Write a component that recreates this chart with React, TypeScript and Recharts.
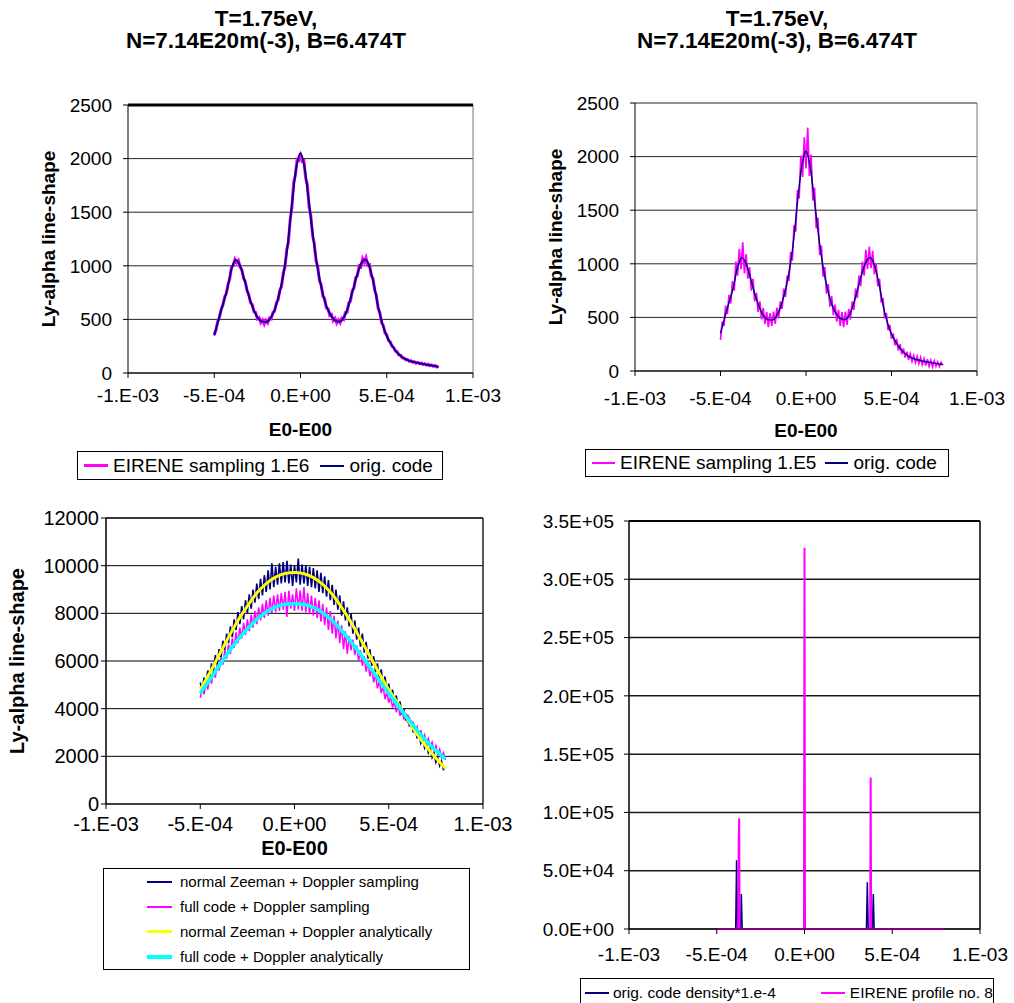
import React from 'react';
import { LineChart, Line, XAxis, YAxis, CartesianGrid, ReferenceLine } from 'recharts';

const FONT = "'Liberation Sans', Arial, Helvetica, sans-serif";
const MAGENTA = '#FF00FF';
const NAVY = '#000080';
const YELLOW = '#FFFF00';
const CYAN = '#00FFFF';

const titleLines = ['T=1.75eV,', 'N=7.14E20m(-3), B=6.474T'];
const xAxisTitle = 'E0-E00';
const yAxisTitle = 'Ly-alpha line-shape';

// x values in units of 1e-4
const xTicks = [-10, -5, 0, 5, 10];
const xTickLabels = ['-1.E-03', '-5.E-04', '0.E+00', '5.E-04', '1.E-03'];

const p12YTicks = [0, 500, 1000, 1500, 2000, 2500];
const p3YTicks = [0, 2000, 4000, 6000, 8000, 10000, 12000];
const p4YTicks = [0, 50000, 100000, 150000, 200000, 250000, 300000, 350000];
const p4YTickLabels = ['0.0E+00', '5.0E+04', '1.0E+05', '1.5E+05', '2.0E+05', '2.5E+05', '3.0E+05', '3.5E+05'];

// fine energy grid (1e-4 units), step 0.1
const xFine = [
  -5, -4.9, -4.8, -4.7, -4.6, -4.5, -4.4, -4.3, -4.2, -4.1,
  -4, -3.9, -3.8, -3.7, -3.6, -3.5, -3.4, -3.3, -3.2, -3.1,
  -3, -2.9, -2.8, -2.7, -2.6, -2.5, -2.4, -2.3, -2.2, -2.1,
  -2, -1.9, -1.8, -1.7, -1.6, -1.5, -1.4, -1.3, -1.2, -1.1,
  -1, -0.9, -0.8, -0.7, -0.6, -0.5, -0.4, -0.3, -0.2, -0.1,
  0, 0.1, 0.2, 0.3, 0.4, 0.5, 0.6, 0.7, 0.8, 0.9,
  1, 1.1, 1.2, 1.3, 1.4, 1.5, 1.6, 1.7, 1.8, 1.9,
  2, 2.1, 2.2, 2.3, 2.4, 2.5, 2.6, 2.7, 2.8, 2.9,
  3, 3.1, 3.2, 3.3, 3.4, 3.5, 3.6, 3.7, 3.8, 3.9,
  4, 4.1, 4.2, 4.3, 4.4, 4.5, 4.6, 4.7, 4.8, 4.9,
  5, 5.1, 5.2, 5.3, 5.4, 5.5, 5.6, 5.7, 5.8, 5.9,
  6, 6.1, 6.2, 6.3, 6.4, 6.5, 6.6, 6.7, 6.8, 6.9,
  7, 7.1, 7.2, 7.3, 7.4, 7.5, 7.6, 7.7, 7.8, 7.9,
  8,
];

// coarse grid, step 0.25
const xOrig = [
  -5, -4.75, -4.5, -4.25, -4, -3.75, -3.5, -3.25, -3, -2.75,
  -2.5, -2.25, -2, -1.75, -1.5, -1.25, -1, -0.75, -0.5, -0.25,
  0, 0.25, 0.5, 0.75, 1, 1.25, 1.5, 1.75, 2, 2.25,
  2.5, 2.75, 3, 3.25, 3.5, 3.75, 4, 4.25, 4.5, 4.75,
  5, 5.25, 5.5, 5.75, 6, 6.25, 6.5, 6.75, 7, 7.25,
  7.5, 7.75, 8,
];
const origCode = [
  350, 500, 640, 780, 970, 1055, 1000, 870, 720, 605,
  520, 482, 475, 508, 590, 725, 910, 1185, 1570, 1910,
  2050, 1900, 1580, 1245, 970, 768, 625, 540, 490, 479,
  515, 610, 750, 900, 1015, 1058, 990, 830, 620, 457,
  345, 270, 212, 167, 136, 118, 105, 95, 88, 80,
  73, 66, 59,
];

const eirene1E6 = [
  360, 400, 480, 515, 595, 630, 710, 740, 830, 875,
  990, 1000, 1060, 1030, 1050, 985, 965, 880, 855, 765,
  735, 655, 640, 570, 565, 505, 515, 470, 495, 455,
  490, 468, 512, 505, 565, 575, 655, 680, 775, 805,
  935, 985, 1150, 1220, 1430, 1540, 1780, 1840, 1990, 1980,
  2030, 1975, 1980, 1815, 1755, 1545, 1470, 1280, 1210, 1045,
  995, 860, 825, 715, 695, 605, 600, 535, 545, 488,
  510, 465, 495, 468, 512, 500, 565, 568, 655, 672,
  770, 790, 890, 905, 1000, 990, 1065, 1030, 1075, 1005,
  1010, 905, 885, 770, 725, 600, 565, 470, 445, 372,
  358, 302, 292, 249, 240, 205, 198, 169, 166, 142,
  141, 123, 126, 110, 115, 100, 106, 92, 99, 86,
  93, 80, 87, 74, 81, 68, 75, 62, 69, 56,
  62,
];

const eirene1E5 = [
  290, 460, 420, 610, 530, 710, 630, 840, 750, 1020,
  890, 1140, 950, 1200, 910, 1090, 860, 970, 750, 860,
  650, 730, 550, 650, 480, 590, 440, 550, 410, 540,
  420, 555, 440, 590, 490, 650, 580, 770, 690, 890,
  840, 1110, 1030, 1360, 1300, 1690, 1610, 2010, 1810, 2180,
  1890, 2270, 1820, 2020, 1590, 1710, 1330, 1430, 1080, 1170,
  880, 970, 720, 810, 600, 700, 520, 620, 460, 570,
  420, 550, 410, 555, 430, 580, 480, 650, 570, 770,
  680, 890, 790, 1020, 890, 1130, 950, 1160, 960, 1120,
  900, 1000, 790, 860, 640, 680, 490, 540, 380, 430,
  300, 350, 240, 300, 190, 250, 155, 210, 125, 180,
  105, 160, 90, 145, 80, 135, 70, 125, 60, 115,
  50, 110, 45, 100, 40, 95, 45, 85, 40, 80,
  55,
];

const normalZeemanSampling = [
  5100, 4750, 5300, 5050, 5600, 5300, 5900, 5600, 6250, 5850,
  6500, 6150, 6850, 6450, 7150, 6750, 7450, 7000, 7750, 7300,
  8050, 7550, 8300, 7750, 8550, 8000, 8800, 8200, 9000, 8450,
  9250, 8600, 9450, 8750, 9600, 8900, 9800, 9000, 10100, 9100,
  9950, 9200, 10100, 9250, 10150, 9300, 10200, 9250, 10050, 9150,
  10000, 9300, 10300, 9200, 10050, 9250, 10000, 9150, 9950, 9100,
  9900, 9050, 9800, 8900, 9700, 8850, 9550, 8700, 9400, 8550,
  9200, 8350, 9000, 8150, 8750, 7900, 8500, 7700, 8250, 7450,
  8000, 7150, 7700, 6900, 7400, 6600, 7150, 6350, 6800, 6100,
  6500, 5800, 6200, 5550, 5900, 5250, 5650, 5000, 5350, 4750,
  5050, 4500, 4800, 4250, 4550, 4000, 4300, 3750, 4000, 3500,
  3750, 3250, 3500, 3000, 3250, 2750, 3000, 2550, 2750, 2350,
  2550, 2150, 2350, 1950, 2150, 1750, 1950, 1600, 1800, 1450,
  1550,
];

const fullCodeSampling = [
  4450, 4850, 4600, 5050, 4800, 5350, 5050, 5600, 5300, 5850,
  5600, 6150, 5850, 6450, 6100, 6700, 6300, 6950, 6550, 7200,
  6750, 7400, 6950, 7600, 7100, 7750, 7250, 7950, 7400, 8100,
  7550, 8250, 7700, 8400, 7800, 8550, 7900, 8650, 8000, 8750,
  8050, 8800, 8100, 8850, 8150, 8900, 7850, 8950, 8200, 8800,
  8100, 9050, 8150, 8950, 8100, 9100, 8050, 8850, 7950, 8750,
  7900, 8650, 7800, 8550, 7650, 8400, 7500, 8250, 7300, 8100,
  7150, 7900, 6950, 7700, 6750, 7500, 6500, 7250, 6300, 7050,
  6450, 6900, 6250, 6650, 6000, 6450, 5800, 6200, 5550, 5950,
  5350, 5700, 5100, 5450, 4850, 5200, 4650, 4950, 4400, 4700,
  4250, 4500, 4050, 4300, 3850, 4150, 3700, 4000, 3550, 3800,
  3400, 3650, 3200, 3450, 3050, 3250, 2850, 3100, 2700, 2900,
  2550, 2750, 2400, 2600, 2250, 2450, 2100, 2300, 1950, 2150,
  1850,
];

// step 0.5
const xHalf = [-5, -4.5, -4, -3.5, -3, -2.5, -2, -1.5, -1, -0.5, 0, 0.5, 1, 1.5, 2, 2.5, 3, 3.5, 4, 4.5, 5, 5.5, 6, 6.5, 7, 7.5, 8];
const normalZeemanAnalytic = [4800, 5500, 6250, 7000, 7700, 8300, 8850, 9250, 9520, 9670, 9710, 9660, 9500, 9220, 8800, 8250, 7620, 6920, 6200, 5480, 4800, 4200, 3550, 2930, 2400, 1930, 1500];
const fullCodeAnalytic = [4650, 5210, 5800, 6380, 6900, 7350, 7750, 8050, 8270, 8380, 8400, 8370, 8250, 8020, 7700, 7280, 6800, 6280, 5740, 5180, 4640, 4110, 3590, 3100, 2640, 2250, 1900];

const origDensityX = [-5, -3.92, -3.87, -3.82, -3.65, -3.6, -3.55, -0.05, 0, 0.05, 3.53, 3.58, 3.63, 3.87, 3.92, 3.97, 8];
const origDensityY = [0, 0, 59000, 0, 0, 30000, 0, 0, 3000, 0, 0, 40000, 0, 0, 30000, 0, 0];
const eireneProfileX = [-5, -3.78, -3.75, -3.72, -3.7, -0.03, 0, 0.03, 3.74, 3.77, 3.8, 8];
const eireneProfileY = [0, 0, 75000, 95000, 0, 0, 327000, 0, 0, 130000, 0, 0];

const names1 = ['EIRENE sampling 1.E6', 'orig. code'];
const names2 = ['EIRENE sampling 1.E5', 'orig. code'];
const names3 = [
  'normal Zeeman + Doppler sampling',
  'full code + Doppler sampling',
  'normal Zeeman + Doppler analytically',
  'full code + Doppler analytically',
];
const names4 = ['orig. code density*1.e-4', 'EIRENE profile no. 8'];

const pts = (xs: number[], ys: number[]) => xs.map((x, i) => ({ x, y: ys[i] }));

const tickStyle = (size: number) => ({ fill: '#000', fontSize: size, fontFamily: FONT });
const boldLabel = (size: number) => ({ fontWeight: 'bold', fontSize: size, fill: '#000', fontFamily: FONT });
const fmtX = (v: number) => xTickLabels[xTicks.indexOf(v)] ?? '';

function xAxisEl(height: number, tickMargin: number, fontSize: number, labelOffset: number | null) {
  return (
    <XAxis
      type="number"
      dataKey="x"
      domain={[-10, 10]}
      ticks={xTicks}
      interval={0}
      allowDataOverflow
      tickFormatter={fmtX}
      height={height}
      tickSize={5}
      tickMargin={tickMargin}
      axisLine={{ stroke: '#000', strokeWidth: 1 }}
      tickLine={{ stroke: '#000' }}
      tick={tickStyle(fontSize)}
      label={
        labelOffset === null
          ? undefined
          : { value: xAxisTitle, position: 'insideTop', offset: labelOffset, style: boldLabel(fontSize) }
      }
    />
  );
}

function Title({ center }: { center: number }) {
  const lineStyle = {
    position: 'absolute' as const,
    left: center - 250,
    width: 500,
    textAlign: 'center' as const,
    fontWeight: 'bold' as const,
    fontSize: 22.5,
    lineHeight: '22.5px',
    fontFamily: FONT,
    color: '#000',
    whiteSpace: 'nowrap' as const,
  };
  return (
    <>
      <div style={{ ...lineStyle, top: 7.6 }}>{titleLines[0]}</div>
      <div style={{ ...lineStyle, top: 30.3 }}>{titleLines[1]}</div>
    </>
  );
}

function Swatch({ color, thick, width = 24, mr = 5 }: { color: string; thick: number; width?: number; mr?: number }) {
  return <div style={{ width, height: thick, background: color, marginRight: mr, flex: 'none' }} />;
}

export default function App() {
  const lineCommon = { dot: false, activeDot: false, isAnimationActive: false, dataKey: 'y' } as const;
  return (
    <div
      style={{
        position: 'absolute',
        left: 0,
        top: 0,
        width: 1014,
        height: 1003,
        overflow: 'hidden',
        background: '#fff',
        fontFamily: FONT,
        color: '#000',
      }}
    >
      <Title center={266} />
      <Title center={777} />

      {/* Panel 1 */}
      <div style={{ position: 'absolute', left: 0, top: 90 }}>
        <LineChart width={507} height={360} margin={{ top: 15, right: 34, bottom: 0, left: 0 }}>
          <CartesianGrid horizontal vertical={false} stroke="#000" strokeOpacity={0.85} />
          {xAxisEl(77, 11, 19, 50)}
          <YAxis
            type="number"
            domain={[0, 2500]}
            ticks={p12YTicks}
            interval={0}
            width={128}
            tickSize={5}
            tickMargin={11}
            axisLine={{ stroke: '#000' }}
            tickLine={{ stroke: '#000' }}
            tick={tickStyle(19)}
            label={{ value: yAxisTitle, angle: -90, position: 'insideLeft', offset: 48, style: { ...boldLabel(19), textAnchor: 'middle' } }}
          />
          <ReferenceLine x={10} stroke="#777" />
          <ReferenceLine y={2500} stroke="#000" strokeWidth={3} />
          <Line {...lineCommon} data={pts(xFine, eirene1E6)} name={names1[0]} stroke={MAGENTA} strokeWidth={3} type="linear" />
          <Line {...lineCommon} data={pts(xOrig, origCode)} name={names1[1]} stroke={NAVY} strokeWidth={2} type="monotone" />
        </LineChart>
      </div>
      <div
        style={{
          position: 'absolute', left: 77, top: 451, width: 366, height: 29, boxSizing: 'border-box',
          border: '1px solid #000', display: 'flex', alignItems: 'center', paddingLeft: 6, fontSize: 19, whiteSpace: 'nowrap',
        }}
      >
        <Swatch color={MAGENTA} thick={3} />
        <span style={{ marginRight: 11 }}>{names1[0]}</span>
        <Swatch color={NAVY} thick={2} />
        <span>{names1[1]}</span>
      </div>

      {/* Panel 2 */}
      <div style={{ position: 'absolute', left: 507, top: 90 }}>
        <LineChart width={507} height={360} margin={{ top: 13, right: 37, bottom: 0, left: 0 }}>
          <CartesianGrid horizontal vertical={false} stroke="#000" strokeOpacity={0.85} />
          {xAxisEl(79, 16, 19, 53)}
          <YAxis
            type="number"
            domain={[0, 2500]}
            ticks={p12YTicks}
            interval={0}
            width={128}
            tickSize={5}
            tickMargin={11}
            axisLine={{ stroke: '#000' }}
            tickLine={{ stroke: '#000' }}
            tick={tickStyle(19)}
            label={{ value: yAxisTitle, angle: -90, position: 'insideLeft', offset: 48, style: { ...boldLabel(19), textAnchor: 'middle' } }}
          />
          <ReferenceLine x={10} stroke="#777" />
          <Line {...lineCommon} data={pts(xFine, eirene1E5)} name={names2[0]} stroke={MAGENTA} strokeWidth={1.7} type="linear" />
          <Line {...lineCommon} data={pts(xOrig, origCode)} name={names2[1]} stroke={NAVY} strokeWidth={1.4} type="monotone" />
        </LineChart>
      </div>
      <div
        style={{
          position: 'absolute', left: 585, top: 449, width: 364, height: 28, boxSizing: 'border-box',
          border: '1px solid #000', display: 'flex', alignItems: 'center', paddingLeft: 6, fontSize: 19, whiteSpace: 'nowrap',
        }}
      >
        <Swatch color={MAGENTA} thick={2} width={23} mr={5} />
        <span style={{ marginRight: 9 }}>{names2[0]}</span>
        <Swatch color={NAVY} thick={2} width={23} mr={5} />
        <span>{names2[1]}</span>
      </div>

      {/* Panel 3 */}
      <div style={{ position: 'absolute', left: 0, top: 500 }}>
        <LineChart width={530} height={360} margin={{ top: 18, right: 47, bottom: 0, left: 0 }}>
          <CartesianGrid horizontal vertical={false} stroke="#000" />
          {xAxisEl(56, 8, 20, 37)}
          <YAxis
            type="number"
            domain={[0, 12000]}
            ticks={p3YTicks}
            interval={0}
            width={106}
            tickSize={5}
            tickMargin={2}
            axisLine={{ stroke: '#000', strokeWidth: 1.5 }}
            tickLine={{ stroke: '#000' }}
            tick={tickStyle(20)}
            label={{ value: yAxisTitle, angle: -90, position: 'insideLeft', offset: 17, style: { ...boldLabel(20), textAnchor: 'middle' } }}
          />
          <ReferenceLine x={10} stroke="#222" strokeWidth={1.5} />
          <ReferenceLine y={12000} stroke="#222" strokeWidth={1.5} />
          <Line {...lineCommon} data={pts(xFine, normalZeemanSampling)} name={names3[0]} stroke={NAVY} strokeWidth={1.6} type="linear" />
          <Line {...lineCommon} data={pts(xFine, fullCodeSampling)} name={names3[1]} stroke={MAGENTA} strokeWidth={1.5} type="linear" />
          <Line {...lineCommon} data={pts(xHalf, normalZeemanAnalytic)} name={names3[2]} stroke={YELLOW} strokeWidth={3} type="monotone" />
          <Line {...lineCommon} data={pts(xHalf, fullCodeAnalytic)} name={names3[3]} stroke={CYAN} strokeWidth={3.5} type="monotone" />
        </LineChart>
      </div>
      <div
        style={{
          position: 'absolute', left: 103, top: 868, width: 367, height: 102, boxSizing: 'border-box',
          border: '1px solid #000', paddingLeft: 43, fontSize: 15, whiteSpace: 'nowrap',
        }}
      >
        {names3.map((n, i) => (
          <div key={n} style={{ display: 'flex', alignItems: 'center', height: 25 }}>
            <Swatch color={[NAVY, MAGENTA, YELLOW, CYAN][i]} thick={[2, 2, 3, 4][i]} width={25} mr={8} />
            <span>{n}</span>
          </div>
        ))}
      </div>

      {/* Panel 4 */}
      <div style={{ position: 'absolute', left: 507, top: 500 }}>
        <LineChart width={507} height={470} margin={{ top: 21, right: 34, bottom: 0, left: 0 }}>
          <CartesianGrid horizontal vertical={false} stroke="#000" strokeWidth={1.5} strokeOpacity={0.9} />
          {xAxisEl(41, 14, 19, null)}
          <YAxis
            type="number"
            domain={[0, 350000]}
            ticks={p4YTicks}
            interval={0}
            width={122}
            tickSize={5}
            tickMargin={10}
            axisLine={{ stroke: '#000', strokeWidth: 1.5 }}
            tickLine={{ stroke: '#000' }}
            tick={tickStyle(19)}
            tickFormatter={(v: number) => p4YTickLabels[p4YTicks.indexOf(v)] ?? ''}
          />
          <ReferenceLine x={10} stroke="#000" strokeWidth={1.5} />
          <ReferenceLine y={350000} stroke="#000" strokeWidth={2} />
          <Line {...lineCommon} data={pts(origDensityX, origDensityY)} name={names4[0]} stroke={NAVY} strokeWidth={1.5} type="linear" />
          <Line {...lineCommon} data={pts(eireneProfileX, eireneProfileY)} name={names4[1]} stroke={MAGENTA} strokeWidth={2} type="linear" />
        </LineChart>
      </div>
      <div
        style={{
          position: 'absolute', left: 580, top: 978, width: 414, height: 40, boxSizing: 'border-box',
          border: '1px solid #000', paddingLeft: 4, fontSize: 15.5, whiteSpace: 'nowrap',
        }}
      >
        <div style={{ display: 'flex', alignItems: 'center', height: 28 }}>
          <Swatch color={NAVY} thick={1.5} width={24} mr={4} />
          <span style={{ marginRight: 45 }}>{names4[0]}</span>
          <Swatch color={MAGENTA} thick={2} width={24} mr={5} />
          <span>{names4[1]}</span>
        </div>
      </div>
    </div>
  );
}
